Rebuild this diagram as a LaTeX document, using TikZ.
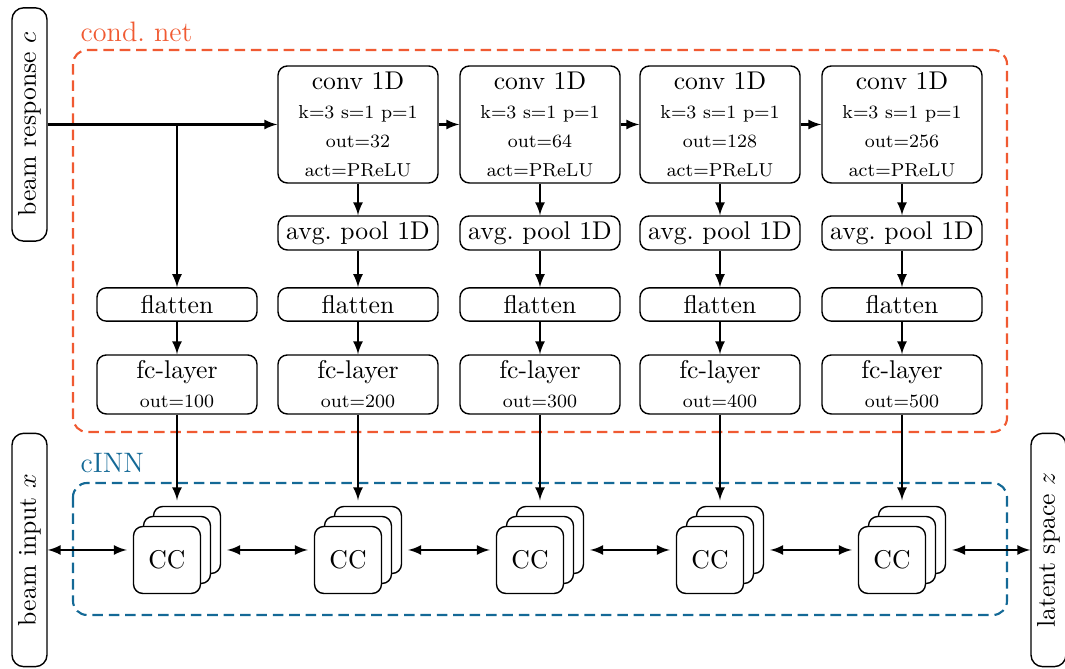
\documentclass[tikz,border=0pt,11pt]{standalone}
\usepackage{amsmath}
\usepackage{tikz}
\usetikzlibrary{positioning}
\definecolor{condcol}{RGB}{240,90,50}
\definecolor{inncol}{RGB}{20,105,150}

\begin{document}
\begin{tikzpicture}[
  x=0.015cm, y=-0.015cm,
  line width=0.6pt,
  layer/.style={draw,rounded corners=4pt,minimum width=2.4cm,align=center,inner sep=2pt},
  side/.style={draw,rounded corners=5pt,rotate=90,minimum height=0.525cm,minimum width=3.5cm,inner sep=1pt},
  ccbox/.style={draw,fill=white,rounded corners=4pt,minimum size=1.005cm},
  stack/.style={minimum width=1.485cm,minimum height=1.47cm},
  group/.style={dashed,dash pattern=on 4.5pt off 2.5pt,line width=0.9pt,rounded corners=6pt},
  every edge/.append style={line width=0.9pt}
]
\useasboundingbox (0,0) rectangle (1065,669);

% frames of the two parts
\draw[group,condcol] (73,50) rectangle (1007,432);
\node[condcol,font=\large,anchor=base west,inner sep=0pt] (condlbl) at (80,42) {cond.\ net};
\draw[group,inncol] (73,483) rectangle (1007,615);
\node[inncol,font=\large,anchor=base west,inner sep=0pt] (innlbl) at (80,473) {cINN};

% inputs and output
\node[side] (resp) at (29.5,124.5) {beam response $c$};
\node[side] (inp) at (29.5,550) {beam input $x$};
\node[side] (lat) at (1048.5,550) {latent space $z$};

% conv branches
\foreach \i/\x/\o in {1/358/32,2/540/64,3/720/128,4/902/256}{
  \node[layer,minimum height=1.755cm,font=\scriptsize] (conv\i) at (\x,124.5)
    {{\normalsize conv 1D}\\[3pt]k=3 s=1 p=1\\[3pt]out=\o\\[3pt]act=PReLU};
  \node[layer,minimum height=0.51cm] (pool\i) at (\x,233) {avg.\ pool 1D};
}

% flatten, fc-layer and coupling blocks
\foreach \i/\x/\o in {0/177/100,1/358/200,2/540/300,3/720/400,4/902/500}{
  \node[layer,minimum height=0.5cm] (flat\i) at (\x,304.5) {flatten};
  \node[layer,minimum height=0.885cm,font=\scriptsize] (fc\i) at (\x,384.5)
    {{\normalsize fc-layer}\\[3pt]out=\o};
  \node[stack] (cc\i) at (\x,550) {};
  \node[ccbox] (ccb\i) at (\x+10,540) {};
  \node[ccbox] (ccm\i) at (\x,550) {};
  \node[ccbox] (ccf\i) at (\x-10,560) {CC};
  \path (flat\i) edge[-latex] (fc\i)
        (fc\i) edge[-latex] (cc\i);
}

\path (resp.south) edge[-latex] (conv1.west)
      (resp.south -| flat0) edge[-latex] (flat0);

\foreach \i/\j in {1/2,2/3,3/4}{
  \path (conv\i) edge[-latex] (conv\j);
}
\foreach \i in {1,...,4}{
  \path (conv\i) edge[-latex] (pool\i)
        (pool\i) edge[-latex] (flat\i);
}

\path (inp.south) edge[latex-latex] (cc0.west)
      (cc4.east) edge[latex-latex] (lat.north);
\foreach \i/\j in {0/1,1/2,2/3,3/4}{
  \path (cc\i) edge[latex-latex] (cc\j);
}

\end{tikzpicture}
\end{document}
